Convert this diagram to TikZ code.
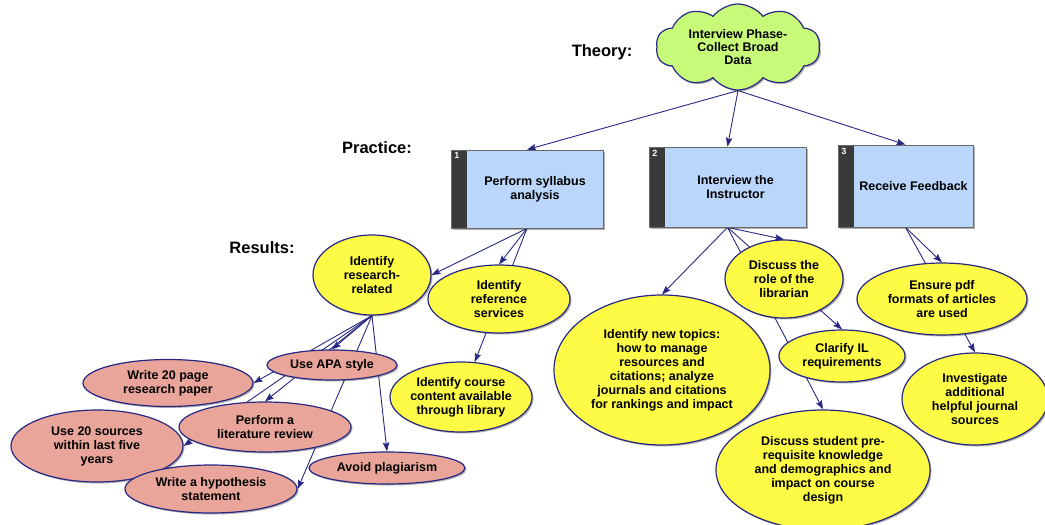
\documentclass[tikz,border=0pt]{standalone}
\usepackage{fontspec}
\setmainfont{Liberation Sans}
\usetikzlibrary{shapes.geometric,shapes.symbols,arrows.meta,shadows}
\pgfdeclarelayer{bg}
\pgfsetlayers{bg,main}
\definecolor{navy}{RGB}{40,40,130}
\definecolor{ylw}{RGB}{253,251,70}
\definecolor{pnk}{RGB}{233,165,154}
\definecolor{grn}{RGB}{200,250,122}
\definecolor{boxblue}{RGB}{186,214,250}
\definecolor{stripgray}{RGB}{58,58,58}
\definecolor{boxedge}{RGB}{105,105,105}
\begin{document}
\begin{tikzpicture}[x=1pt,y=-1pt,
  font=\fontsize{12.5}{14}\selectfont\bfseries,
  shade/.style={drop shadow={shadow xshift=1.5pt,shadow yshift=-1.5pt,opacity=0.3,fill=black}},
  txt/.style={align=center,inner sep=0pt,text=black},
  yel/.style={ellipse,draw=navy,line width=1.2pt,fill=ylw,inner sep=0pt,shade},
  pink/.style={ellipse,draw=navy,line width=1.2pt,fill=pnk,inner sep=0pt,shade},
  stepbox/.style={rectangle,draw=boxedge,line width=0.8pt,fill=boxblue,inner sep=0pt,shade,
    path picture={\fill[stripgray] (path picture bounding box.north west) rectangle
      ([xshift=16pt]path picture bounding box.south west);}},
  numlbl/.style={anchor=north west,inner xsep=3.5pt,inner ysep=3pt,text=white,font=\fontsize{9}{10}\selectfont\bfseries},
  heading/.style={font=\fontsize{16.5}{18}\selectfont\bfseries,inner sep=0pt},
  edge/.style={draw=navy,line width=0.9pt,-{Stealth[length=9pt,width=6.5pt,inset=1.5pt]}}]
\useasboundingbox (0,0) rectangle (1045,525);

% level headings
\node[heading] (hTheory) at (602,52) {Theory:};
\node[heading] (hPractice) at (377,148) {Practice:};
\node[heading] (hResults) at (262,248) {Results:};

% theory cloud
\node[cloud,cloud puffs=10,cloud puff arc=105,aspect=2,draw=navy,line width=1.2pt,fill=grn,
  minimum width=164,minimum height=86,inner sep=0pt,shade,
  label={[txt,font=\fontsize{12.5}{13.3}\selectfont\bfseries]center:Interview Phase-\\Collect Broad\\Data}]
  (cl) at (738,47) {};

% practice steps
\node[stepbox,minimum width=152,minimum height=78,label={[numlbl]north west:1}] (b1) at (527,189) {};
\node[txt] (b1t) at ([xshift=8pt]b1.center) {Perform syllabus\\analysis};
\node[stepbox,minimum width=157,minimum height=80,label={[numlbl]north west:2}] (b2) at (727.5,187) {};
\node[txt] (b2t) at ([xshift=8pt]b2.center) {Interview the\\Instructor};
\node[stepbox,minimum width=135,minimum height=82,label={[numlbl]north west:3}] (b3) at (905.5,186) {};
\node[txt] (b3t) at ([xshift=8pt]b3.center) {Receive Feedback};

% results of step 1
\node[yel,minimum width=118,minimum height=80,label={[txt]center:Identify\\research-\\related}] (rr) at (372,275) {};
\node[yel,minimum width=142,minimum height=68,label={[txt]center:Identify\\reference\\services}] (rs) at (499,299) {};
\node[yel,minimum width=142,minimum height=70,label={[txt]center:Identify course\\content available\\through library}] (cc) at (461,397) {};

% research requirements
\node[pink,minimum width=130,minimum height=30,label={[txt]center:Use APA style}] (apa) at (332,365) {};
\node[pink,minimum width=170,minimum height=47,label={[txt]center:Write 20 page\\research paper}] (w20) at (168,383) {};
\node[pink,minimum width=172,minimum height=50,label={[txt]center:Perform a\\literature review}] (lr) at (265,427) {};
\node[pink,minimum width=172,minimum height=72,label={[txt]center:Use 20 sources\\within last five\\years}] (u20) at (97,446) {};
\node[pink,minimum width=172,minimum height=48,label={[txt]center:Write a hypothesis\\statement}] (hyp) at (211,489) {};
\node[pink,minimum width=156,minimum height=32,label={[txt]center:Avoid plagiarism}] (ap) at (387,468) {};

% results of step 2
\node[yel,minimum width=216,minimum height=150,label={[txt]center:Identify new topics:\\how to manage\\resources and\\citations; analyze\\journals and citations\\for rankings and impact}] (nt) at (662,370) {};
\node[yel,minimum width=118,minimum height=78,label={[txt]center:Discuss the\\role of the\\librarian}] (dr) at (784,279) {};
\node[yel,minimum width=126,minimum height=52,label={[txt]center:Clarify IL\\requirements}] (cil) at (842,356) {};
\node[yel,minimum width=214,minimum height=120,label={[txt]center:Discuss student pre-\\requisite knowledge\\and demographics and\\impact on course\\design}] (ds) at (823,470) {};

% results of step 3
\node[yel,minimum width=170,minimum height=72,label={[txt]center:Ensure pdf\\formats of articles\\are used}] (ep) at (942,299) {};
\node[yel,minimum width=146,minimum height=92,label={[txt]center:Investigate\\additional\\helpful journal\\sources}] (inv) at (975,399) {};

% connectors, kept behind the nodes
\begin{pgfonlayer}{bg}
\draw[edge] (cl.south) -- (b1.north);
\draw[edge] (cl.south) -- (b2.north);
\draw[edge] (cl.south) -- (b3.north);

\draw[edge] (b1.south) -- (rr.east);
\draw[edge] (b1.south) -- (rs.north);
\draw[edge] (b1.south) -- (cc);

\draw[edge] (rr.south) -- (apa.north);
\draw[edge] (rr.south) -- (w20.east);
\draw[edge] (rr.south) -- (lr.north);
\draw[edge] (rr.south) -- (u20.east);
\draw[edge] (rr.south) -- (hyp.east);
\draw[edge] (rr.south) -- (ap.north);

\draw[edge] (b2.south) -- (nt.north);
\draw[edge] (b2.south) -- (dr.north);
\draw[edge] (b2.south) -- (cil.north);
\draw[edge] (b2.south) -- (ds.north);

\draw[edge] (b3.south) -- (ep.north);
\draw[edge] (b3.south) -- (inv.north);
\end{pgfonlayer}
\end{tikzpicture}
\end{document}
